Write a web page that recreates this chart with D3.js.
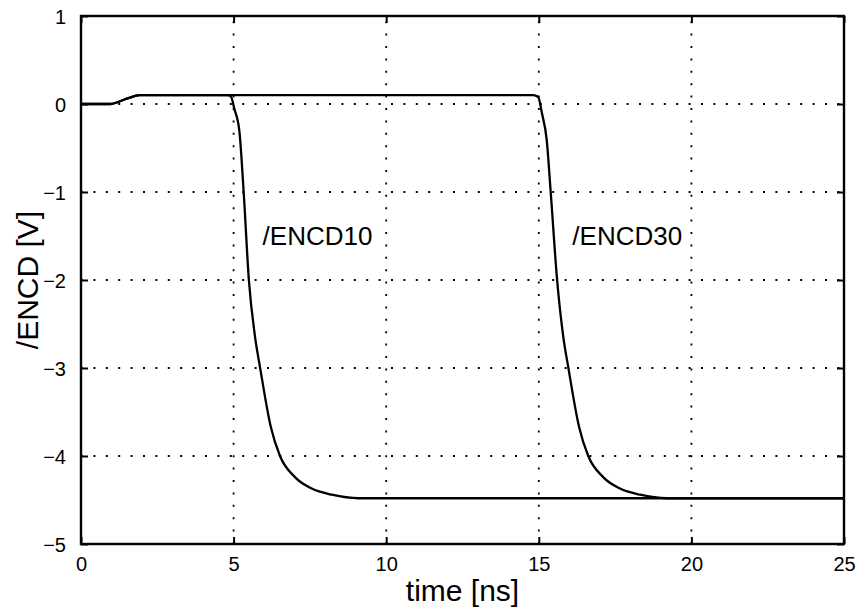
<!DOCTYPE html>
<html>
<head>
<meta charset="utf-8">
<script src="https://cdn.jsdelivr.net/npm/d3@7"></script>
<style>
  html, body { margin: 0; padding: 0; background: #fff; }
  svg { display: block; }
  text { font-family: "Liberation Sans", Arial, Helvetica, sans-serif; fill: #000; }
</style>
</head>
<body>
<svg id="chart" width="858" height="612"></svg>
<script>
// ---- data ----
const xTicks = [0, 5, 10, 15, 20, 25];
const yTicks = [1, 0, -1, -2, -3, -4, -5];
const xTickLabels = ["0", "5", "10", "15", "20", "25"];
const yTickLabels = ["1", "0", "\u22121", "\u22122", "\u22123", "\u22124", "\u22125"];

const encd10T = [0, 0.95, 1.5, 1.93, 4.8, 4.92, 5.02, 5.19, 5.33, 5.5, 5.70, 5.87, 6.22, 6.52, 7.01, 7.56, 8.22, 9.09, 25];
const encd10V = [0, 0, 0.06, 0.1, 0.1, 0.08, -0.05, -0.31, -1.0, -2.0, -2.64, -3.0, -3.67, -4.0, -4.24, -4.37, -4.44, -4.48, -4.48];

const encd30T = [0, 0.95, 1.5, 1.93, 14.82, 14.98, 15.1, 15.26, 15.39, 15.6, 15.8, 15.97, 16.32, 16.62, 17.11, 17.66, 18.32, 19.19, 25];
const encd30V = [0, 0, 0.06, 0.1, 0.1, 0.08, -0.1, -0.41, -1.0, -2.0, -2.64, -3.0, -3.67, -4.0, -4.24, -4.37, -4.44, -4.48, -4.48];

const labels = [
  { text: "/ENCD10", t: 5.95, v: -1.6 },
  { text: "/ENCD30", t: 16.1, v: -1.6 }
];
const xLabel = "time [ns]";
const yLabel = "/ENCD [V]";

// ---- layout ----
const svg = d3.select("#chart");
const L = 81, R = 844, T = 16, B = 544;
const x = d3.scaleLinear().domain([0, 25]).range([L, R]);
const y = d3.scaleLinear().domain([-5, 1]).range([B, T]);

// grid
const grid = svg.append("g").attr("stroke", "#000").attr("stroke-width", 1.8)
  .attr("stroke-dasharray", "2,10.4").attr("fill", "none");
xTicks.filter(d => d > 0 && d < 25).forEach(d => {
  grid.append("line").attr("x1", x(d)).attr("x2", x(d)).attr("y1", B).attr("y2", T);
});
yTicks.filter(d => d > -5 && d < 1).forEach(d => {
  grid.append("line").attr("x1", L).attr("x2", R).attr("y1", y(d)).attr("y2", y(d));
});

// axes (MATLAB-style box with inward ticks)
const tickLen = 7;
const axB = svg.append("g").attr("transform", `translate(0,${B})`)
  .call(d3.axisBottom(x).tickValues(xTicks).tickSize(-tickLen).tickPadding(13)
    .tickFormat((d, i) => xTickLabels[i]));
const axT = svg.append("g").attr("transform", `translate(0,${T})`)
  .call(d3.axisTop(x).tickValues(xTicks).tickSize(-tickLen).tickFormat(""));
const axL = svg.append("g").attr("transform", `translate(${L},0)`)
  .call(d3.axisLeft(y).tickValues(yTicks).tickSize(-tickLen).tickPadding(15)
    .tickFormat((d, i) => yTickLabels[i]));
const axR = svg.append("g").attr("transform", `translate(${R},0)`)
  .call(d3.axisRight(y).tickValues(yTicks).tickSize(-tickLen).tickFormat(""));
[axB, axT, axL, axR].forEach(a => {
  a.select(".domain").remove();
  a.selectAll(".tick line").attr("stroke", "#000").attr("stroke-width", 2);
  a.selectAll("text").attr("font-size", 20).style("font-family", '"Liberation Sans", Arial, sans-serif');
});
axB.selectAll("text").attr("dy", "0.71em");
axL.selectAll("text").attr("dy", "0.35em");

// box
svg.append("rect").attr("x", L).attr("y", T).attr("width", R - L).attr("height", B - T)
  .attr("fill", "none").attr("stroke", "#000").attr("stroke-width", 2.4);

// curves
const line = d3.line().x(d => x(d[0])).y(d => y(d[1])).curve(d3.curveMonotoneX);
[[encd10T, encd10V], [encd30T, encd30V]].forEach(([ts, vs]) => {
  svg.append("path").datum(ts.map((t, i) => [t, vs[i]]))
    .attr("d", line).attr("fill", "none").attr("stroke", "#000").attr("stroke-width", 2.3);
});

// annotations
labels.forEach(l => {
  svg.append("text").attr("x", x(l.t)).attr("y", y(l.v)).attr("font-size", 26).text(l.text);
});

// axis labels
svg.append("text").attr("x", (L + R) / 2).attr("y", 601).attr("text-anchor", "middle")
  .attr("font-size", 30).text(xLabel);
svg.append("text").attr("transform", `translate(38,${(T + B) / 2}) rotate(-90)`)
  .attr("text-anchor", "middle").attr("font-size", 30).text(yLabel);
</script>
</body>
</html>
